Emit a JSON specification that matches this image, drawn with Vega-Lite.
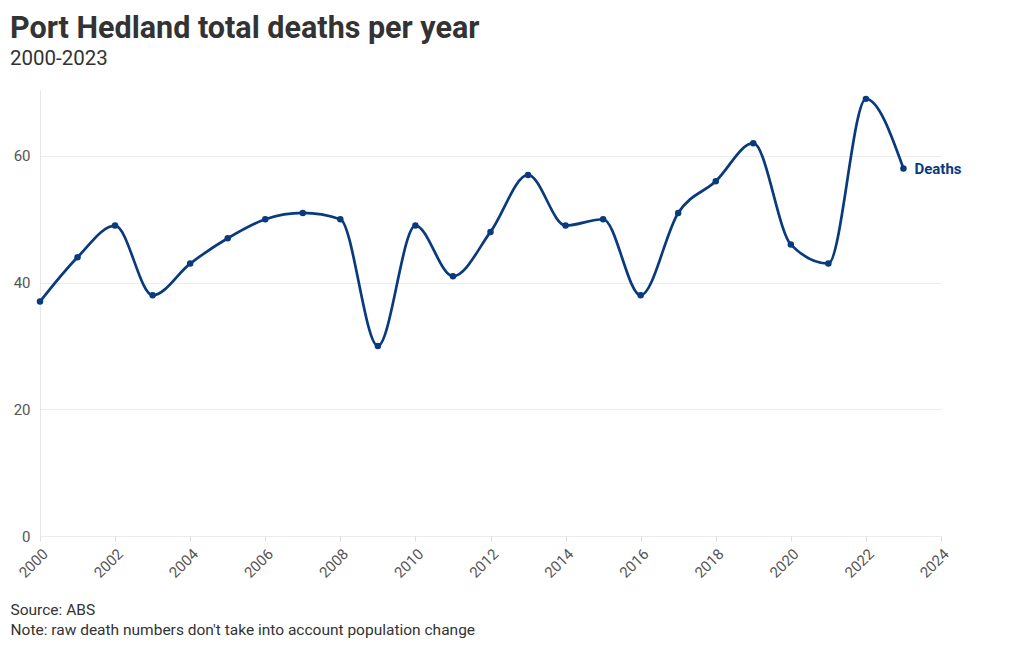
{
  "$schema": "https://vega.github.io/schema/vega-lite/v6.json",
  "autosize": "none",
  "width": 901,
  "height": 446,
  "padding": {"left": 40, "top": 90, "right": 79, "bottom": 114},
  "background": "white",
  "title": {
    "text": "Port Hedland total deaths per year",
    "subtitle": "2000-2023",
    "anchor": "start",
    "frame": "group",
    "dx": -30,
    "offset": 21,
    "font": "Roboto",
    "fontSize": 30.5,
    "fontWeight": "bold",
    "color": "#333333",
    "subtitleFont": "Roboto",
    "subtitleFontSize": 20.5,
    "subtitleColor": "#333333",
    "subtitlePadding": 4
  },
  "config": {
    "view": {"stroke": null},
    "font": "Roboto"
  },
  "data": {
    "values": [
      {"year": 2000, "deaths": 37},
      {"year": 2001, "deaths": 44},
      {"year": 2002, "deaths": 49},
      {"year": 2003, "deaths": 38},
      {"year": 2004, "deaths": 43},
      {"year": 2005, "deaths": 47},
      {"year": 2006, "deaths": 50},
      {"year": 2007, "deaths": 51},
      {"year": 2008, "deaths": 50},
      {"year": 2009, "deaths": 30},
      {"year": 2010, "deaths": 49},
      {"year": 2011, "deaths": 41},
      {"year": 2012, "deaths": 48},
      {"year": 2013, "deaths": 57},
      {"year": 2014, "deaths": 49},
      {"year": 2015, "deaths": 50},
      {"year": 2016, "deaths": 38},
      {"year": 2017, "deaths": 51},
      {"year": 2018, "deaths": 56},
      {"year": 2019, "deaths": 62},
      {"year": 2020, "deaths": 46},
      {"year": 2021, "deaths": 43},
      {"year": 2022, "deaths": 69},
      {"year": 2023, "deaths": 58}
    ]
  },
  "encoding": {
    "x": {
      "field": "year",
      "type": "quantitative",
      "scale": {"domain": [2000, 2024], "nice": false, "zero": false},
      "axis": {
        "values": [2000, 2002, 2004, 2006, 2008, 2010, 2012, 2014, 2016, 2018, 2020, 2022, 2024],
        "format": "d",
        "labelAngle": -45,
        "labelFontSize": 15,
        "labelColor": "#555555",
        "labelFont": "Roboto",
        "labelPadding": 5,
        "grid": false,
        "domain": false,
        "ticks": true,
        "tickColor": "#dddddd",
        "tickSize": 5,
        "title": ["Source: ABS", "Note: raw death numbers don't take into account population change"],
        "titleFont": "Roboto",
        "titleFontSize": 15.5,
        "titleFontWeight": "normal",
        "titleColor": "#333333",
        "titleAnchor": "start",
        "titleAlign": "left",
        "titleBaseline": "top",
        "titleX": -30,
        "titleY": 66,
        "titleLineHeight": 20
      }
    },
    "y": {
      "field": "deaths",
      "type": "quantitative",
      "scale": {"domain": [0, 70.4], "nice": false},
      "axis": {
        "values": [0, 20, 40, 60],
        "labelFontSize": 15,
        "labelColor": "#555555",
        "labelFont": "Roboto",
        "labelPadding": 10,
        "ticks": false,
        "domain": true,
        "domainColor": "#e6e6e6",
        "gridColor": "#ececec",
        "title": null
      }
    }
  },
  "layer": [
    {
      "mark": {"type": "line", "interpolate": "monotone", "color": "#0a3a7e", "strokeWidth": 2.7}
    },
    {
      "mark": {"type": "point", "filled": true, "color": "#0a3a7e", "size": 42, "opacity": 1}
    },
    {
      "transform": [{"filter": "datum.year == 2023"}],
      "mark": {"type": "text", "text": "Deaths", "align": "left", "baseline": "middle", "dx": 11, "fontSize": 15, "fontWeight": "bold", "color": "#0a3a7e", "font": "Roboto"}
    }
  ]
}
